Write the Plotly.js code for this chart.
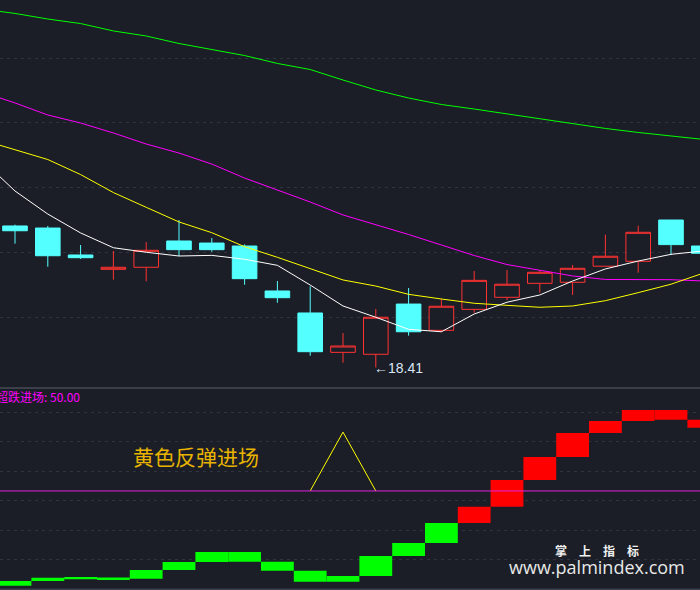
<!DOCTYPE html>
<html><head><meta charset="utf-8">
<script src="https://cdn.plot.ly/plotly-3.0.1.min.js"></script>
<style>html,body{margin:0;padding:0;background:#1b1e26;}#chart{width:700px;height:590px;}</style>
</head><body><div id="chart"></div>
<script>
// ---- price panel data (trading-day index 0..21) ----
const days  = [0,1,2,3,4,5,6,7,8,9,10,11,12,13,14,15,16,17,18,19,20,21];
const open  = [19.503,19.487,19.279,19.168,19.184,19.387,19.371,19.348,19.001,18.831,18.527,18.512,18.900,18.697,18.859,18.952,19.060,19.068,19.192,19.230,19.549,19.348];
const high  = [19.513,19.503,19.356,19.310,19.379,19.549,19.410,19.361,19.078,19.037,18.676,18.862,19.024,18.941,19.155,19.163,19.158,19.202,19.436,19.505,19.549,19.364];
const low   = [19.366,19.188,19.248,19.088,19.076,19.271,19.304,19.049,18.910,18.501,18.447,18.410,18.656,18.682,18.833,18.931,18.988,18.970,19.192,19.142,19.279,19.256];
const close = [19.466,19.273,19.258,19.184,19.315,19.320,19.320,19.096,18.949,18.532,18.576,18.798,18.686,18.883,19.083,19.053,19.145,19.176,19.269,19.454,19.359,19.292];

// moving averages (index -1..21)
const maDays = [-1,0,1,2,3,4,5,6,7,8,9,10,11,12,13,14,15,16,17,18,19,20,21];
const maWhite   = [20.012,19.773,19.595,19.449,19.335,19.300,19.271,19.276,19.246,19.199,19.047,18.885,18.798,18.705,18.686,18.823,18.914,18.970,19.078,19.171,19.232,19.284,19.310];
const maYellow  = [20.167,20.093,20.016,19.900,19.761,19.647,19.534,19.451,19.343,19.261,19.171,19.086,19.039,18.975,18.939,18.906,18.890,18.875,18.885,18.926,18.988,19.053,19.140];
const maMagenta = [20.537,20.453,20.360,20.298,20.221,20.136,20.066,19.981,19.873,19.781,19.688,19.588,19.514,19.437,19.356,19.275,19.205,19.163,19.117,19.090,19.090,19.088,19.078];
const maGreen   = [21.178,21.144,21.101,21.066,21.009,20.970,20.912,20.866,20.819,20.758,20.711,20.630,20.553,20.491,20.441,20.406,20.368,20.333,20.290,20.256,20.225,20.198,20.171];

const lowMarkDay = 11, lowMarkValue = 18.41;

// ---- indicator panel data ----
const scoreDays = [-1,0,1,2,3,4,5,6,7,8,9,10,11,12,13,14,15,16,17,18,19,20,21];
const score     = [1.68,4.08,5.76,5.30,5.20,9.69,13.8,18.87,13.9,9.33,3.72,6.63,16.83,23.46,33.66,41.97,55.58,67.31,79.55,85.67,91.28,86.33,82.25];
const scoreRed  = [0,0,0,0,0,0,0,0,0,0,0,0,0,0,1,1,1,1,1,1,1,1]; // per day 0..21
const reboundDays = [9,10,11];
const rebound     = [50,80,50];
const entryLevel = 50.00;

// ---- build ----
const BG = '#1b1e26';
const MIN_H = 1.2;
const barX=[], barBase=[], barH=[], barColor=[];
for (let i=1;i<score.length;i++){
  const a=score[i-1], b=score[i];
  let lo=Math.min(a,b), h=Math.abs(b-a);
  if (h<MIN_H){ lo -= (MIN_H-h)/2; h=MIN_H; }
  barX.push(scoreDays[i]); barBase.push(lo); barH.push(h);
  barColor.push(scoreRed[i-1] ? '#ff0000' : '#00ff00');
}

const traces = [
  {type:'scatter', mode:'lines', x:maDays, y:maGreen, line:{color:'#00ff00', width:1}, xaxis:'x', yaxis:'y', hoverinfo:'skip'},
  {type:'scatter', mode:'lines', x:maDays, y:maMagenta, line:{color:'#ff00ff', width:1}, xaxis:'x', yaxis:'y', hoverinfo:'skip'},
  {type:'scatter', mode:'lines', x:maDays, y:maYellow, line:{color:'#ffff00', width:1}, xaxis:'x', yaxis:'y', hoverinfo:'skip'},
  {type:'candlestick', x:days, open:open, high:high, low:low, close:close, xaxis:'x', yaxis:'y',
   whiskerwidth:0,
   increasing:{line:{color:'#ff3232', width:1}, fillcolor:BG},
   decreasing:{line:{color:'#54ffff', width:1}, fillcolor:'#54ffff'},
   hoverinfo:'skip'},
  {type:'scatter', mode:'lines', x:maDays, y:maWhite, line:{color:'#ffffff', width:1}, xaxis:'x', yaxis:'y', hoverinfo:'skip'},
  {type:'bar', x:barX, y:barH, base:barBase, width:1, marker:{color:barColor, line:{width:0}}, xaxis:'x', yaxis:'y2', hoverinfo:'skip'},
  {type:'scatter', mode:'lines', x:reboundDays, y:rebound, line:{color:'#ffff00', width:1}, xaxis:'x', yaxis:'y2', hoverinfo:'skip'}
];

const layout = {
  width:700, height:590, margin:{l:0,r:0,t:0,b:0},
  paper_bgcolor:BG, plot_bgcolor:BG, showlegend:false, hovermode:false,
  boxgap:0.25, boxgroupgap:0,
  xaxis:{domain:[0,1], range:[-0.4573,20.884], showgrid:false, showticklabels:false, zeroline:false,
         rangeslider:{visible:false}, anchor:'y2', showline:false, ticks:''},
  yaxis:{domain:[202/590,1], range:[18.2517,21.2479], tickvals:[18.8,19.3,19.8,20.3,20.8],
         showticklabels:false, gridcolor:'#30343e', griddash:'3px,4px', gridwidth:1, zeroline:false, ticks:''},
  yaxis2:{domain:[1/590,202/590], range:[0,102.5], tickvals:[15,30,45,60,75,90],
         showticklabels:false, gridcolor:'#30343e', griddash:'3px,4px', gridwidth:1, zeroline:false, ticks:''},
  shapes:[
    {type:'line', xref:'paper', yref:'y2', x0:0, x1:1, y0:entryLevel, y1:entryLevel, line:{color:'#e020e0', width:1}},
    {type:'line', xref:'paper', yref:'paper', x0:0, x1:1, y0:202/590, y1:202/590, line:{color:'#3a3f4a', width:2}},
    {type:'line', xref:'paper', yref:'paper', x0:0, x1:1, y0:0.5/590, y1:0.5/590, line:{color:'#3a3f4a', width:2}}
  ],
  annotations:[
    {xref:'x', yref:'y', x:lowMarkDay, y:lowMarkValue, xanchor:'left', yanchor:'middle', showarrow:false, xshift:-4,
     text:'←'+lowMarkValue.toFixed(2), font:{family:'Liberation Sans, Arial', size:14, color:'#dce6f5'}},
    {xref:'paper', yref:'paper', x:-6/700, y:1-396/590, xanchor:'left', yanchor:'middle', showarrow:false,
     text:'超跌进场: '+entryLevel.toFixed(2), font:{family:'Noto Sans CJK SC', size:12, color:'#ff00ff'}},
    {xref:'paper', yref:'paper', x:196/700, y:1-456/590, xanchor:'center', yanchor:'middle', showarrow:false,
     text:'黄色反弹进场', font:{family:'Noto Sans CJK SC', size:21, color:'#e8b400'}},
    {xref:'paper', yref:'paper', x:597/700, y:1-550/590, xanchor:'center', yanchor:'middle', showarrow:false,
     text:'<b>掌　上　指　标</b>', font:{family:'Noto Sans CJK SC', size:12, color:'#f0f0f0'}},
    {xref:'paper', yref:'paper', x:597/700, y:1-567/590, xanchor:'center', yanchor:'middle', showarrow:false,
     text:'www.palmindex.com', font:{family:'Open Sans', size:18, color:'#e8e8e8'}}
  ]
};

Plotly.newPlot('chart', traces, layout, {staticPlot:true, displayModeBar:false});
</script>
</body></html>
